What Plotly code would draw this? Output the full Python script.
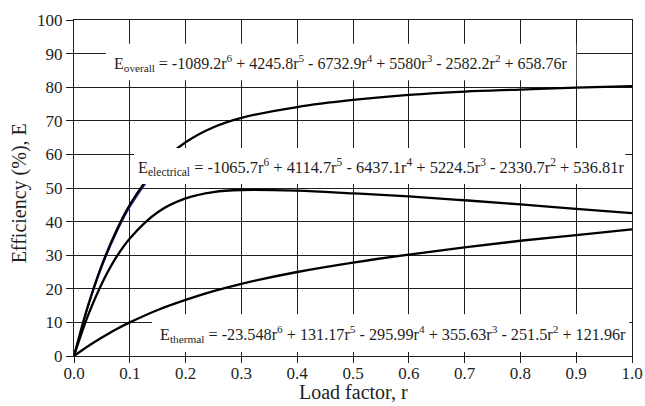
import plotly.graph_objects as go

# Load factor values
r = [0.0, 0.025, 0.05, 0.075, 0.1, 0.15, 0.2, 0.25, 0.3, 0.4, 0.5, 0.6, 0.7, 0.8, 0.9, 1.0]
# Efficiency series (%)
e_overall = [0.0, 14.9, 27.1, 37.0, 45.0, 56.4, 63.6, 68.1, 70.9, 74.1, 76.2, 77.7, 78.7, 79.3, 79.9, 80.3]
e_electrical = [0.0, 12.0, 21.6, 29.2, 35.0, 42.8, 46.9, 48.8, 49.4, 49.2, 48.4, 47.5, 46.35, 45.1, 43.8, 42.5]
e_thermal = [0.0, 2.9, 5.5, 7.9, 10.0, 13.7, 16.7, 19.3, 21.5, 25.0, 27.8, 30.2, 32.3, 34.3, 36.0, 37.7]
# Measured (blue) overall points at low load
r_meas = [0.0, 0.025, 0.05, 0.075, 0.1, 0.13]
e_meas = [0.0, 14.4, 26.4, 36.2, 44.2, 51.7]

x_ticks = [0.0, 0.1, 0.2, 0.3, 0.4, 0.5, 0.6, 0.7, 0.8, 0.9, 1.0]
x_tick_text = ["0.0", "0.1", "0.2", "0.3", "0.4", "0.5", "0.6", "0.7", "0.8", "0.9", "1.0"]
y_ticks = [0, 10, 20, 30, 40, 50, 60, 70, 80, 90, 100]

eq_overall = ("E<sub>overall</sub> = -1089.2r<sup>6</sup> + 4245.8r<sup>5</sup> - 6732.9r<sup>4</sup>"
              " + 5580r<sup>3</sup> - 2582.2r<sup>2</sup> + 658.76r")
eq_electrical = ("E<sub>electrical</sub> = -1065.7r<sup>6</sup> + 4114.7r<sup>5</sup> - 6437.1r<sup>4</sup>"
                 " + 5224.5r<sup>3</sup> - 2330.7r<sup>2</sup> + 536.81r")
eq_thermal = ("E<sub>thermal</sub> = -23.548r<sup>6</sup> + 131.17r<sup>5</sup> - 295.99r<sup>4</sup>"
              " + 355.63r<sup>3</sup> - 251.5r<sup>2</sup> + 121.96r")

FONT = "Liberation Serif"
INK = "#1e1e1e"

fig = go.Figure()
fig.add_trace(go.Scatter(x=r_meas, y=e_meas, mode="lines", line=dict(color="#2a2aa0", width=1.3, shape="spline"),
                         showlegend=False, hoverinfo="skip"))
for ys in (e_overall, e_electrical, e_thermal):
    fig.add_trace(go.Scatter(x=r, y=ys, mode="lines", line=dict(color="black", width=2.3, shape="spline"),
                             showlegend=False))

# white label boxes (cover grid and curves)
boxes = [
    (0.057, 0.900, 82.1, 92.9),
    (0.108, 0.988, 51.2, 61.9),
    (0.140, 0.995, 1.2, 12.4),
]
for x0, x1, y0, y1 in boxes:
    fig.add_shape(type="rect", xref="x", yref="y", x0=x0, x1=x1, y0=y0, y1=y1,
                  fillcolor="white", line=dict(width=0), layer="above")

labels = [
    (eq_overall, 0.478, 87.3, 16),
    (eq_electrical, 0.551, 56.3, 16.4),
    (eq_thermal, 0.571, 6.6, 16.2),
]
for txt, x, y, s in labels:
    fig.add_annotation(x=x, y=y, xref="x", yref="y", text=txt, showarrow=False,
                       font=dict(family=FONT, size=s, color=INK), xanchor="center", yanchor="middle")

# axis titles
fig.add_annotation(x=0.5, y=-0.107, xref="paper", yref="paper", text="Load factor, r", showarrow=False,
                   font=dict(family=FONT, size=20, color=INK), xanchor="center", yanchor="middle")
fig.add_annotation(x=-0.098, y=0.485, xref="paper", yref="paper", text="Efficiency (%), E", showarrow=False,
                   textangle=-90, font=dict(family=FONT, size=20, color=INK), xanchor="center", yanchor="middle")

fig.update_xaxes(range=[0, 1.0], tickvals=x_ticks, ticktext=x_tick_text, automargin=False,
                 showgrid=True, gridcolor=INK, gridwidth=1.4,
                 showline=True, linecolor=INK, linewidth=1.4, mirror=True,
                 ticks="outside", ticklen=6, tickcolor=INK, tickwidth=1.4,
                 ticklabelstandoff=-5,
                 tickfont=dict(family=FONT, size=17, color=INK),
                 zeroline=False)
fig.update_yaxes(range=[0, 100], tickvals=y_ticks, automargin=False,
                 showgrid=True, gridcolor=INK, gridwidth=1.4,
                 showline=True, linecolor=INK, linewidth=1.4, mirror=True,
                 ticks="outside", ticklen=7, tickcolor=INK, tickwidth=1.4,
                 tickfont=dict(family=FONT, size=17, color=INK),
                 zeroline=False)

fig.update_layout(width=645, height=406, margin=dict(l=74, r=13, t=20, b=50),
                  plot_bgcolor="white", paper_bgcolor="white")

# remove the browser's default 8px body margin so the figure fills the window
fig.write_html("out.html", config={"displayModeBar": False},
               post_script="document.body.style.margin='0';document.documentElement.style.overflow='hidden';")
